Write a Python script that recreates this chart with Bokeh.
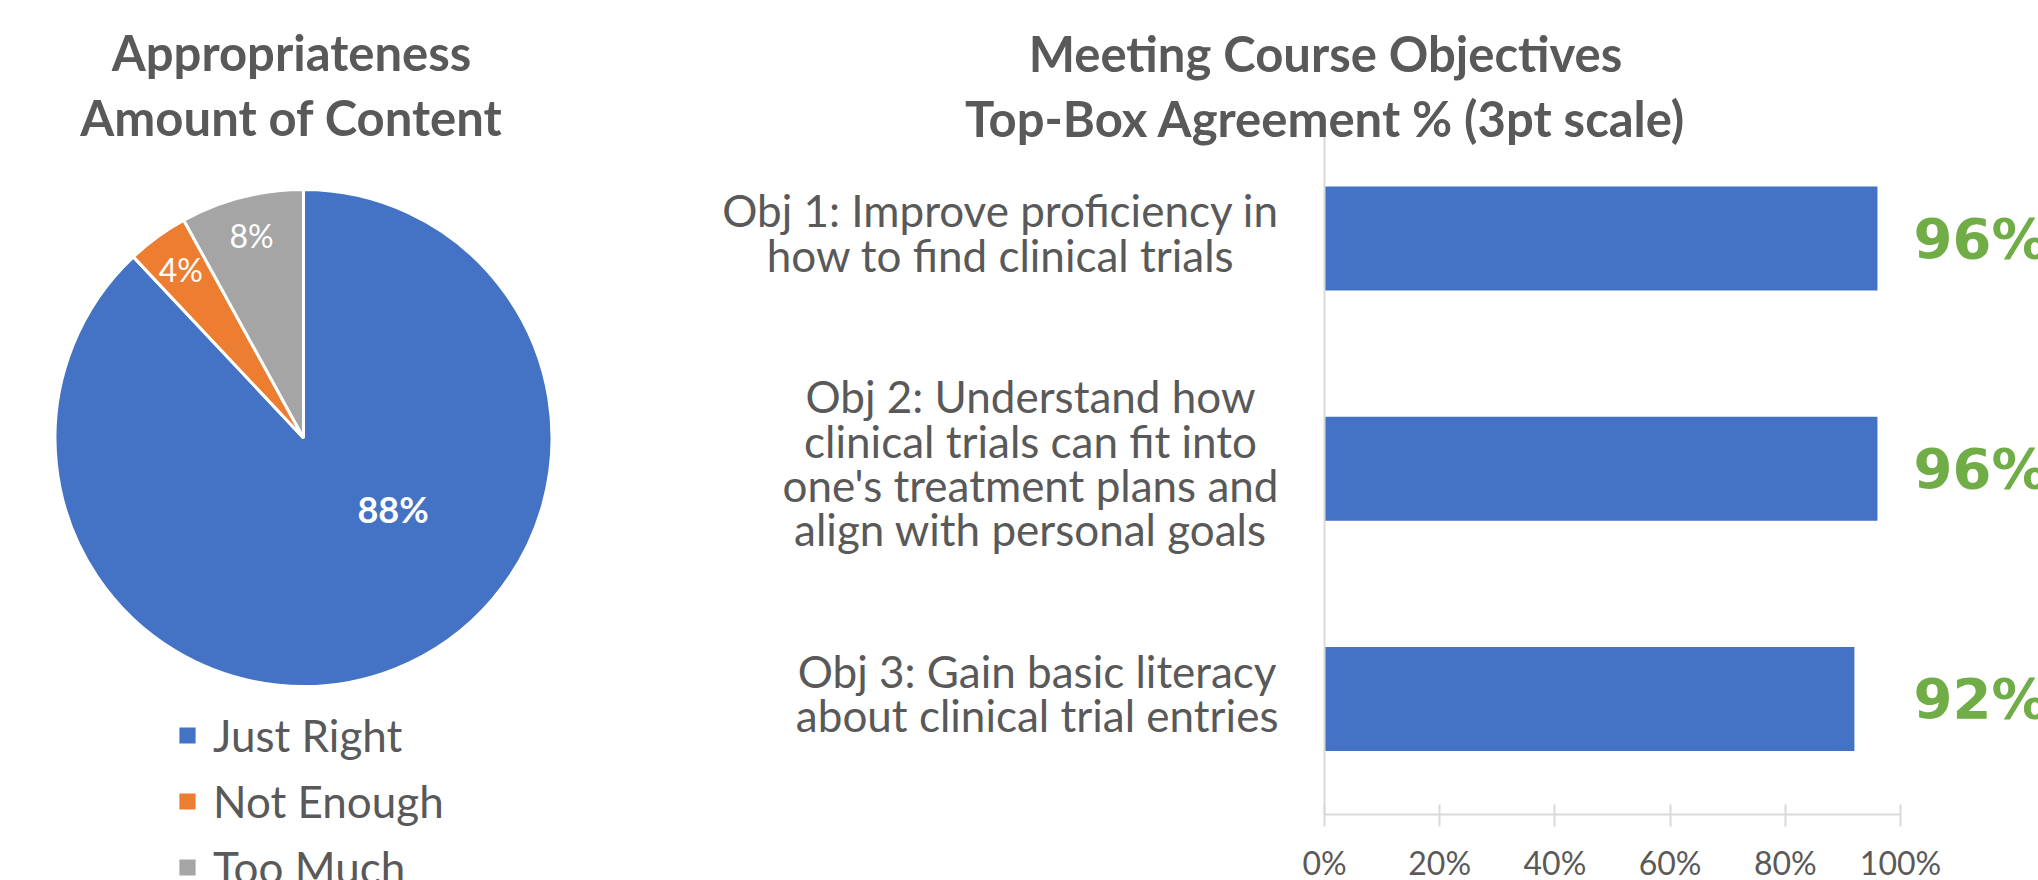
import math
import glob
import subprocess
from bokeh.plotting import figure
from bokeh.models import (Range1d, Label, Legend, LegendItem, LinearAxis,
                          FixedTicker, ColumnDataSource)
from bokeh.core.properties import value
from bokeh.embed import file_html
from bokeh.resources import INLINE

# ---------------- data ----------------
pie_title = ["Appropriateness", "Amount of Content"]
pie_categories = ["Just Right", "Not Enough", "Too Much"]
pie_values = [0.88, 0.04, 0.08]
pie_labels = ["88%", "4%", "8%"]
pie_colors = ["#4472C4", "#ED7D31", "#A5A5A5"]

bar_title = ["Meeting Course Objectives", "Top-Box Agreement % (3pt scale)"]
bar_categories = [
    "Obj 1: Improve proficiency in\nhow to find clinical trials",
    "Obj 2: Understand how\nclinical trials can fit into\none's treatment plans and\nalign with personal goals",
    "Obj 3: Gain basic literacy\nabout clinical trial entries",
]
bar_values = [0.96, 0.96, 0.92]
bar_labels = ["96%", "96%", "92%"]
x_ticks = [0.0, 0.2, 0.4, 0.6, 0.8, 1.0]
x_tick_labels = ["0%", "20%", "40%", "60%", "80%", "100%"]

# ---------------- styles / layout ----------------
TEXT = "#595959"
AXIS = "#D9D9D9"
FONT = "Lato"
W, H = 2038, 880
CAT_FONT_PX = 44
TITLE_PX = "49px"


def find_font(name, bold=False):
    style = "Bold" if bold else "Regular"
    try:
        out = subprocess.run(["fc-match", "-f", "%{file}", f"{name}:style={style}"],
                             capture_output=True, text=True, timeout=5).stdout.strip()
        if out and name.lower() in out.lower():
            return out
    except Exception:
        pass
    for pat in [f"/usr/share/fonts/**/{name}-{style}.ttf", f"/usr/local/share/fonts/**/{name}-{style}.ttf"]:
        hits = glob.glob(pat, recursive=True)
        if hits:
            return hits[0]
    return None


def text_width(s, size):
    try:
        from PIL import ImageFont
        path = find_font(FONT)
        f = ImageFont.truetype(path, size)
        return f.getlength(s)
    except Exception:
        return 0.5 * size * len(s)


p = figure(width=W, height=H, x_range=Range1d(0, W), y_range=Range1d(0, H),
           output_backend="svg", toolbar_location=None, min_border=0,
           x_axis_location=None, y_axis_location=None, title=None)
p.grid.visible = False
p.outline_line_color = None

# ---------------- pie ----------------
CX, CY, R = 303, H - 437.5, 248.5
label_dist = [0.46, 0.84, 0.84]
label_rot = [30, 0, 0]
label_style = ["bold", "normal", "normal"]
label_size = ["36px", "32px", "32px"]

starts, ends, lx, ly = [], [], [], []
cum = 0.0
for i, v in enumerate(pie_values):
    s = math.radians(90 - cum * 360)
    cum += v
    e = math.radians(90 - cum * 360)
    starts.append(s)
    ends.append(e)
    mid = (s + e) / 2 + math.radians(label_rot[i])
    lx.append(CX + label_dist[i] * R * math.cos(mid))
    ly.append(CY + label_dist[i] * R * math.sin(mid))

src = ColumnDataSource(dict(start=starts, end=ends, color=pie_colors, cat=pie_categories))
wedges = p.wedge(x=CX, y=CY, radius=R, start_angle="start", end_angle="end",
                 direction="clock", fill_color="color", line_color="white",
                 line_width=3, source=src)

lsrc = ColumnDataSource(dict(x=lx, y=ly, t=pie_labels, st=label_style, sz=label_size))
p.text(x="x", y="y", text="t", source=lsrc, text_align="center", text_baseline="middle",
       text_color="white", text_font=value(FONT), text_font_style="st", text_font_size="sz")

for txt, yb in zip(pie_title, [H - 51, H - 116]):
    p.add_layout(Label(x=291, y=yb, text=txt, text_align="center", text_baseline="alphabetic",
                       text_font=FONT, text_font_style="bold", text_font_size=TITLE_PX,
                       text_color=TEXT))

items = [LegendItem(label=c, renderers=[wedges], index=i) for i, c in enumerate(pie_categories)]
legend = Legend(items=items, location=(175, -14), orientation="vertical",
                label_text_font=FONT, label_text_font_size="44px", label_text_color=TEXT,
                glyph_width=24, glyph_height=24, label_standoff=14, spacing=12,
                padding=0, margin=0, border_line_color=None, background_fill_alpha=0,
                label_height=54)
p.add_layout(legend, "center")

# ---------------- bars ----------------
X0, PX_PER_UNIT = 1324, 576          # page x of 0 %, pixels per 100 %
Y0, PX_PER_CAT = 813.6, 230.25       # page y of the category baseline, pixels per category
n = len(bar_categories)
p.extra_x_ranges = {"pct": Range1d(-X0 / PX_PER_UNIT, (W - X0) / PX_PER_UNIT)}
p.extra_y_ranges = {"cat": Range1d(-(H - Y0) / PX_PER_CAT, Y0 / PX_PER_CAT)}

ypos = [n - 0.5 - i for i in range(n)]

p.hbar(y=ypos, left=0, right=bar_values, height=0.452, fill_color="#4472C4",
       line_color=None, x_range_name="pct", y_range_name="cat")
p.text(x=[max(bar_values)] * n, y=ypos, text=bar_labels, x_offset=36,
       text_align="left", text_baseline="middle",
       text_font=value("DejaVu Sans"), text_font_style="bold", text_font_size="56px",
       text_color="#70AD47", x_range_name="pct", y_range_name="cat")

# category labels: block right edge 46px left of the axis, lines centred in the block
cat_offsets = []
for c in bar_categories:
    wmax = max(text_width(line, CAT_FONT_PX) for line in c.split("\n"))
    cat_offsets.append(-(46 + wmax / 2))
csrc = ColumnDataSource(dict(x=[0] * n, y=ypos, t=bar_categories, xo=cat_offsets))
p.text(x="x", y="y", text="t", x_offset="xo", y_offset=-6, source=csrc,
       text_align="center", text_baseline="middle", text_line_height=0.85,
       text_font=value(FONT), text_font_size=f"{CAT_FONT_PX}px", text_color=TEXT,
       x_range_name="pct", y_range_name="cat")

xa = LinearAxis(x_range_name="pct", y_range_name="cat", fixed_location=0,
                ticker=FixedTicker(ticks=x_ticks), bounds=(0, 1))
xa.major_label_overrides = dict(zip(x_ticks, x_tick_labels))
xa.axis_line_color = AXIS
xa.axis_line_width = 2
xa.major_tick_line_color = AXIS
xa.major_tick_line_width = 2
xa.major_tick_in = 10
xa.major_tick_out = 12
xa.minor_tick_line_color = None
xa.major_label_standoff = 17
xa.major_label_text_font = FONT
xa.major_label_text_font_size = "32px"
xa.major_label_text_color = TEXT
p.add_layout(xa, "below")

ya = LinearAxis(x_range_name="pct", y_range_name="cat", fixed_location=0,
                ticker=FixedTicker(ticks=ypos), bounds=(0, 2.97))
ya.axis_line_color = AXIS
ya.axis_line_width = 2
ya.major_tick_line_color = None
ya.minor_tick_line_color = None
ya.major_label_text_color = None
p.add_layout(ya, "left")

for txt, yb in zip(bar_title, [H - 52, H - 117]):
    p.add_layout(Label(x=1325, y=yb, text=txt, text_align="center", text_baseline="alphabetic",
                       text_font=FONT, text_font_style="bold", text_font_size=TITLE_PX,
                       text_color=TEXT))

open("out.html", "w").write(file_html(p, INLINE))
